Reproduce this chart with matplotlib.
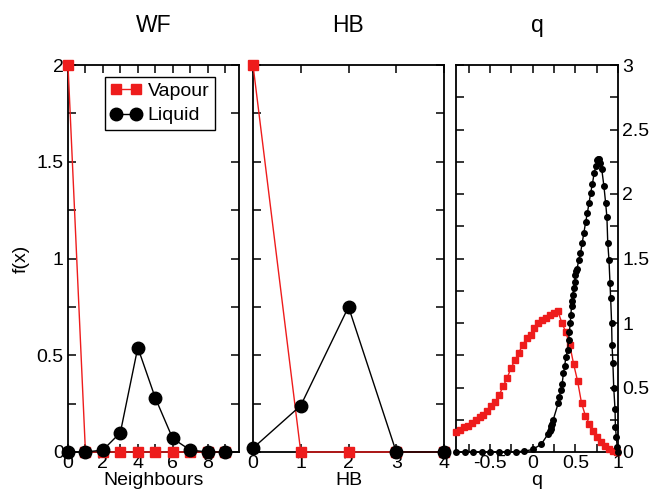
import matplotlib
matplotlib.use('Agg')
import matplotlib.pyplot as plt
from matplotlib.ticker import MultipleLocator

# Data
nb_x = [0, 1, 2, 3, 4, 5, 6, 7, 8, 9]
nb_vap = [2.0, 0, 0, 0, 0, 0, 0, 0, 0, 0]
nb_liq = [0.0, 0.0, 0.01, 0.10, 0.54, 0.28, 0.07, 0.01, 0.0, 0.0]

hb_x = [0, 1, 2, 3, 4]
hb_vap = [2.0, 0, 0, 0, 0]
hb_liq = [0.02, 0.24, 0.75, 0.0, 0.0]

q_vap_x = [-0.900, -0.854, -0.808, -0.762, -0.716, -0.670, -0.624, -0.578, -0.532, -0.486,
           -0.440, -0.394, -0.348, -0.302, -0.256, -0.210, -0.164, -0.118, -0.072, -0.026,
           0.020, 0.066, 0.112, 0.158, 0.204, 0.250, 0.296, 0.342, 0.388, 0.434,
           0.480, 0.526, 0.572, 0.618, 0.664, 0.710, 0.756, 0.802, 0.848, 0.894,
           0.940, 0.986]
q_vap = [0.155, 0.17, 0.19, 0.205, 0.225, 0.25, 0.27, 0.29, 0.32, 0.36,
         0.39, 0.44, 0.51, 0.57, 0.65, 0.71, 0.77, 0.83, 0.88, 0.91,
         0.96, 1.00, 1.025, 1.04, 1.06, 1.075, 1.09, 1.00, 0.93, 0.83,
         0.68, 0.55, 0.38, 0.28, 0.22, 0.16, 0.12, 0.08, 0.045, 0.025,
         0.01, 0.0]

q_liq_x = [-0.9, -0.8, -0.7, -0.6, -0.5, -0.4, -0.3, -0.2, -0.1, 0.0,
           0.1, 0.18, 0.2, 0.21, 0.22, 0.23, 0.24, 0.30, 0.31, 0.33,
           0.345, 0.36, 0.375, 0.39, 0.41, 0.42, 0.43, 0.44, 0.447, 0.455,
           0.46, 0.47, 0.48, 0.49, 0.50, 0.51, 0.52, 0.54, 0.56, 0.58,
           0.60, 0.62, 0.64, 0.66, 0.68, 0.70, 0.72, 0.74, 0.755, 0.77,
           0.78, 0.79, 0.81, 0.835, 0.855, 0.87, 0.88, 0.894, 0.906, 0.914,
           0.925, 0.93, 0.94, 0.95, 0.965, 0.97, 0.98, 0.99, 1.0]
q_liq = [0, 0, 0, 0, 0, 0, 0, 0.003, 0.006, 0.02,
         0.06, 0.14, 0.16, 0.18, 0.2, 0.22, 0.25, 0.38, 0.43, 0.48,
         0.53, 0.61, 0.67, 0.74, 0.79, 0.87, 0.93, 1.0, 1.06, 1.13,
         1.17, 1.22, 1.27, 1.32, 1.37, 1.40, 1.42, 1.49, 1.54, 1.62,
         1.70, 1.78, 1.85, 1.93, 2.01, 2.08, 2.16, 2.22, 2.26, 2.27,
         2.27, 2.24, 2.19, 2.06, 1.93, 1.82, 1.62, 1.49, 1.31, 1.19,
         1.0, 0.83, 0.69, 0.50, 0.33, 0.19, 0.12, 0.04, 0.0]

red = '#ee1c1c'
plt.rcParams.update({'font.size': 14, 'font.family': 'Liberation Sans'})

fig = plt.figure(figsize=(6.52, 4.91), dpi=100)
ax1 = fig.add_axes([68/652, 39/491, 171/652, 387/491])
ax2 = fig.add_axes([253/652, 39/491, 191/652, 387/491])
ax3 = fig.add_axes([456/652, 39/491, 162/652, 387/491])

for ax in (ax1, ax2, ax3):
    for s in ax.spines.values():
        s.set_linewidth(1.3)
    ax.tick_params(which='both', direction='in', top=True, right=True, width=1.1)
    ax.tick_params(axis='x', pad=2.5)
    ax.tick_params(axis='y', pad=3)
    ax.tick_params(which='major', length=6)
    ax.tick_params(which='minor', length=6)

# panel 1
ax1.plot(nb_x, nb_vap, '-s', color=red, ms=7.5, lw=1, label='Vapour', clip_on=False, zorder=3)
ax1.plot(nb_x, nb_liq, '-o', color='black', ms=9, lw=1, label='Liquid', clip_on=False, zorder=4)
ax1.set_xlim(0, 9.8)
ax1.set_ylim(0, 2)
ax1.xaxis.set_major_locator(MultipleLocator(2))
ax1.xaxis.set_minor_locator(MultipleLocator(1))
ax1.set_yticks([0, 0.5, 1, 1.5, 2], ['0', '0.5', '1', '1.5', '2'])
ax1.yaxis.set_minor_locator(MultipleLocator(0.25))
ax1.set_xlabel('Neighbours', labelpad=0)
ax1.set_ylabel('f(x)', labelpad=5)
ax1.set_title('WF', fontsize=16.5, pad=24)
leg = ax1.legend(loc='upper right', bbox_to_anchor=(0.86, 0.97), borderaxespad=0,
                 fancybox=False, edgecolor='black', numpoints=2, handlelength=1.6,
                 handletextpad=0.3, borderpad=0.3, labelspacing=0.35, framealpha=1)
leg.get_frame().set_linewidth(1.0)

# panel 2
ax2.plot(hb_x, hb_vap, '-s', color=red, ms=7.5, lw=1, clip_on=False, zorder=3)
ax2.plot(hb_x, hb_liq, '-o', color='black', ms=9, lw=1, clip_on=False, zorder=4)
ax2.set_xlim(0, 4)
ax2.set_ylim(0, 2)
ax2.set_xticks([0, 1, 2, 3, 4])
ax2.yaxis.set_major_locator(MultipleLocator(0.5))
ax2.yaxis.set_minor_locator(MultipleLocator(0.25))
ax2.tick_params(labelleft=False)
ax2.set_xlabel('HB', labelpad=0)
ax2.set_title('HB', fontsize=16.5, pad=24)

# panel 3
ax3.plot(q_vap_x, q_vap, '-s', color=red, ms=4, lw=1, clip_on=False, zorder=3)
ax3.plot(q_liq_x, q_liq, '-o', color='black', ms=4, lw=1, clip_on=False, zorder=4)
ax3.set_xlim(-0.9, 1)
ax3.set_ylim(0, 3)
ax3.set_xticks([-0.5, 0, 0.5, 1], ['-0.5', '0', '0.5', '1'])
ax3.xaxis.set_minor_locator(MultipleLocator(0.25))
ax3.set_yticks([0, 0.5, 1, 1.5, 2, 2.5, 3], ['0', '0.5', '1', '1.5', '2', '2.5', '3'])
ax3.yaxis.set_minor_locator(MultipleLocator(0.25))
ax3.tick_params(labelleft=False, labelright=True)
ax3.set_xlabel('q', labelpad=0)
ax3.set_title('q', fontsize=16.5, pad=24)

fig.savefig('out.png', dpi=100)
